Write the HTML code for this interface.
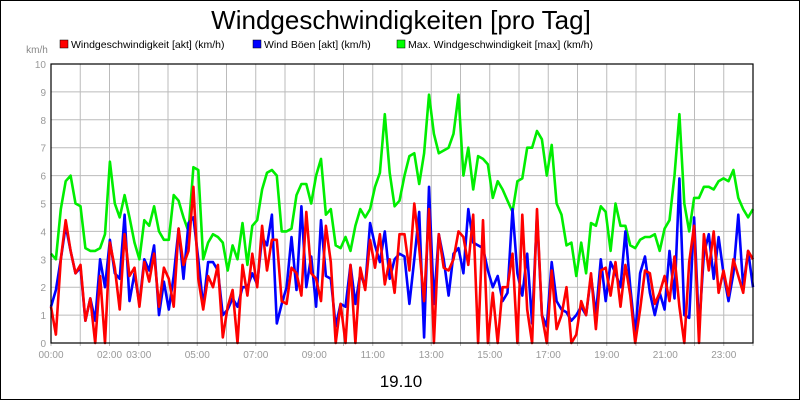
<!DOCTYPE html>
<html><head><meta charset="utf-8">
<style>
body{margin:0;background:#fff;font-family:"Liberation Sans",sans-serif;}
#wrap{position:relative;width:798px;height:398px;border:1px solid #000;background:#fff;overflow:hidden;}
svg{position:absolute;left:0;top:0;}
</style></head><body>
<div id="wrap">
<svg id="chart" width="800" height="400">
<text x="400" y="28" text-anchor="middle" font-size="26" fill="#000">Windgeschwindigkeiten [pro Tag]</text>
<text x="36" y="52" text-anchor="middle" font-size="10" fill="#888">km/h</text>
<g>
<g><rect x="59" y="39" width="8" height="8" fill="#f00" stroke="#000" stroke-width="0.5"/><text x="70" y="47" font-size="10.5">Windgeschwindigkeit [akt] (km/h)</text></g>
<g><rect x="252" y="39" width="8" height="8" fill="#00f" stroke="#000" stroke-width="0.5"/><text x="263" y="47" font-size="10.5">Wind Böen [akt] (km/h)</text></g>
<g><rect x="396" y="39" width="8" height="8" fill="#0f0" stroke="#000" stroke-width="0.5"/><text x="407" y="47" font-size="10.5">Max. Windgeschwindigkeit [max] (km/h)</text></g>
</g>
<g id="grid"></g>
<g id="yticks"></g>
<g id="xticks"></g>
<g id="series"></g>
<rect x="50" y="63" width="702" height="279" fill="none" stroke="#000" stroke-width="1.2"/>
<text x="400" y="386" text-anchor="middle" font-size="17">19.10</text>
</svg>
</div>
<script>
const yTicks=[0,1,2,3,4,5,6,7,8,9,10];
const xHours=[0,1,2,3,4,5,6,7,8,9,10,11,12,13,14,15,16,17,18,19,20,21,22,23,24];
const xLabelHours=[0,2,3,5,7,9,11,13,15,17,19,21,23];
const maxSpeed=[3.2,3.0,4.8,5.8,6.0,5.0,4.9,3.4,3.3,3.3,3.4,3.9,6.5,5.0,4.5,5.3,4.5,3.6,3.0,4.4,4.2,4.9,4.0,3.7,3.7,5.3,5.1,4.5,4.0,6.3,6.2,3.0,3.6,3.9,3.8,3.6,
2.6,3.5,3.0,4.3,2.8,4.2,4.4,5.5,6.1,6.2,6.0,4.0,4.0,4.1,5.3,5.7,5.7,5.0,6.0,6.6,4.6,4.8,3.5,3.4,3.8,3.3,4.2,4.8,4.5,4.8,5.6,6.1,8.2,6.1,4.9,
5.1,6.0,6.7,6.8,5.7,6.8,8.9,7.5,6.8,6.9,7.0,7.5,8.9,6.0,7.0,5.5,6.7,6.6,6.4,5.2,5.8,5.5,5.1,4.7,5.8,5.9,7.0,7.0,7.6,7.3,6.0,7.1,5.0,4.6,3.5,3.6,
2.4,3.6,2.5,4.3,4.2,4.9,4.7,3.3,5.0,4.2,4.2,3.5,3.4,3.7,3.8,3.8,3.9,3.3,4.1,4.4,6.0,8.2,5.0,4.0,5.2,5.2,5.6,5.6,5.5,5.8,5.9,5.8,6.2,5.2,4.8,4.5,4.8];
const gustSpeed=[1.3,1.9,3.0,4.2,3.3,2.5,2.7,0.8,1.6,0.8,3.0,2.0,3.7,2.5,2.3,4.6,1.5,2.5,1.4,3.0,2.6,3.5,1.0,2.2,1.2,2.4,4.1,2.3,4.3,4.5,3.0,1.3,2.9,2.9,2.6,1.0,
1.2,1.6,1.3,2.0,2.0,2.5,2.1,3.8,3.5,4.6,0.7,1.4,2.0,3.8,1.9,4.9,2.0,3.1,1.3,4.4,2.4,2.3,0.6,1.4,1.3,2.8,1.4,2.5,2.0,4.3,3.5,2.9,4.0,2.3,3.0,
3.2,3.1,1.4,3.0,4.7,0.2,5.6,1.4,3.9,3.0,1.7,3.2,3.4,2.5,4.8,3.6,3.5,3.4,2.6,2.0,2.4,1.5,1.8,4.8,2.5,1.7,3.2,0.7,4.6,1.0,0.6,2.9,1.5,1.2,1.1,0.8,
1.0,1.3,1.0,2.4,1.0,3.0,1.5,2.9,2.5,2.0,4.0,2.0,0.3,2.5,3.1,1.8,1.0,1.8,1.2,3.3,1.6,5.9,1.0,0.9,4.5,0.5,3.2,3.9,2.3,3.8,2.5,1.5,2.5,4.6,2.0,3.3,2.0];
const windSpeed=[1.3,0.3,3.0,4.4,3.3,2.5,2.8,0.8,1.6,0.0,2.4,0.0,3.6,2.7,1.2,3.9,2.4,2.7,1.3,2.9,2.2,3.2,1.3,2.7,2.3,1.3,4.1,2.8,3.3,5.6,2.3,1.2,2.4,2.0,2.8,0.2,
1.3,1.9,0.0,2.8,1.7,3.2,2.0,4.2,2.6,3.7,3.7,1.5,1.4,2.7,2.5,1.7,4.7,2.5,2.3,1.5,4.2,2.9,0.0,1.4,0.0,2.8,0.0,2.7,1.9,3.7,2.7,3.9,2.1,3.0,1.8,
3.9,3.9,2.6,5.0,3.4,1.5,4.8,0.0,3.9,2.7,2.6,3.0,4.0,3.8,2.8,4.6,0.0,4.4,0.0,1.8,0.0,2.0,2.0,3.2,0.0,4.6,1.2,0.0,4.8,1.0,0.0,2.6,0.5,1.0,2.0,0.0,
0.3,1.5,1.0,2.5,0.5,2.6,2.7,1.7,2.9,1.3,2.8,1.7,0.0,1.2,2.6,2.5,1.4,1.8,2.4,1.5,3.1,1.3,0.0,2.9,4.2,0.0,3.9,2.6,4.0,1.8,2.6,1.7,3.0,2.4,1.8,3.3,3.0];

const X0=50,X1=752,Y0=342,Y1=63;
const NS='http://www.w3.org/2000/svg';
function yScale(v){return Y0-(v/10)*(Y0-Y1);}
function xHour(h){return X0+(h/24)*(X1-X0);}
function xIndex(i,n){return X0+(i/(n-1))*(X1-X0);}
function mk(tag,attrs,parent){const e=document.createElementNS(NS,tag);for(const k in attrs)e.setAttribute(k,attrs[k]);parent.appendChild(e);return e;}
const grid=document.getElementById('grid'),yt=document.getElementById('yticks'),xt=document.getElementById('xticks'),ser=document.getElementById('series');
yTicks.forEach(v=>{
  const l=mk('line',{x1:X0,x2:X1,y1:yScale(v),y2:yScale(v),stroke:'#bbb','stroke-width':1},grid);
  
  
  const t=mk('text',{x:45,y:yScale(v)+4,'text-anchor':'end','font-size':10,fill:'#999'},yt);
  t.textContent=v;
  
  
});
xHours.forEach(h=>{
  const l=mk('line',{x1:xHour(h),x2:xHour(h),y1:Y1,y2:Y0+3,stroke:'#bbb','stroke-width':1},grid);
  
  
});
xLabelHours.forEach(h=>{
  const t=mk('text',{x:xHour(h),y:357,'text-anchor':'middle','font-size':10,fill:'#999'},xt);
  t.textContent=(h<10?'0':'')+h+':00';
  
  
});
function drawLine(arr,color,name){
  const pts=arr.map((v,i)=>xIndex(i,arr.length).toFixed(1)+','+yScale(v).toFixed(1)).join(' ');
  const p=mk('polyline',{points:pts,fill:'none',stroke:color,'stroke-width':2.6,'stroke-linejoin':'round'},ser);
  
  
}
drawLine(maxSpeed,'#00ee00','max-wind-line');
drawLine(gustSpeed,'#0000ff','gust-line');
drawLine(windSpeed,'#ff0000','wind-speed-line');
</script>
</body></html>
